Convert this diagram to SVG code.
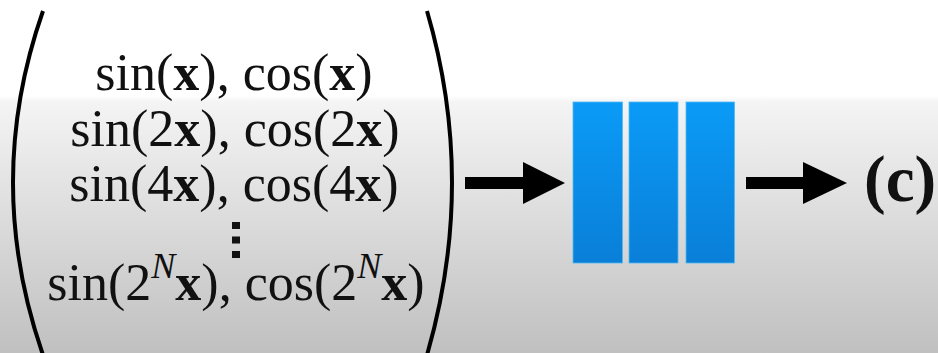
<svg xmlns="http://www.w3.org/2000/svg" width="938" height="353" viewBox="0 0 938 353">
  <defs>
    <linearGradient id="bg" x1="0" y1="0" x2="0" y2="1">
      <stop offset="0" stop-color="#ffffff"/>
      <stop offset="0.27" stop-color="#ffffff"/>
      <stop offset="0.29" stop-color="#f4f4f4"/>
      <stop offset="1" stop-color="#c0c0c0"/>
    </linearGradient>
    <linearGradient id="bar" x1="0" y1="0" x2="0" y2="1">
      <stop offset="0" stop-color="#0a9bf7"/>
      <stop offset="1" stop-color="#0a7fd8"/>
    </linearGradient>
    <style>
      .t { font-family: "Liberation Serif", "Times New Roman", serif; font-size: 52px; fill: #111; text-anchor: middle; }
      .b { font-weight: bold; }
      .sup { font-size: 36px; font-style: italic; }
      .paren { fill: none; stroke: #000; stroke-width: 4; }
      .bar { fill: url(#bar); stroke: #52baf2; stroke-width: 0.8; }
      .arrow { fill: #000; }
    </style>
  </defs>
  <rect x="0" y="0" width="938" height="353" fill="url(#bg)"/>

  <g id="input-vector">
    <path class="paren" d="M 43 11 Q -17 182 43 355"/>
    <path class="paren" d="M 427 11 Q 477 182 427 355"/>
    <text class="t" x="234" y="90">sin(<tspan class="b">x</tspan>), cos(<tspan class="b">x</tspan>)</text>
    <text class="t" x="235" y="146">sin(2<tspan class="b">x</tspan>), cos(2<tspan class="b">x</tspan>)</text>
    <text class="t" x="234" y="201">sin(4<tspan class="b">x</tspan>), cos(4<tspan class="b">x</tspan>)</text>
    <rect x="232" y="222" width="8" height="7" fill="#111"/>
    <rect x="232" y="236.5" width="8" height="7" fill="#111"/>
    <rect x="232" y="251" width="8" height="7" fill="#111"/>
    <text class="t" x="236" y="300">sin(2<tspan class="sup" dy="-22">N</tspan><tspan class="b" dy="22">x</tspan>), cos(2<tspan class="sup" dy="-22">N</tspan><tspan class="b" dy="22">x</tspan>)</text>
  </g>

  <g id="network">
    <rect class="bar" x="573" y="102" width="49.5" height="161"/>
    <rect class="bar" x="629" y="102" width="49" height="161"/>
    <rect class="bar" x="686" y="102" width="48.5" height="161"/>
  </g>

  <g id="output">
    <text class="t b" x="864" y="201" style="font-size:65px; text-anchor:start">(c)</text>
  </g>

  <g id="connectors">
    <rect class="arrow" x="465" y="177" width="60" height="12"/>
    <polygon class="arrow" points="523,162 565,183 523,204"/>
    <rect class="arrow" x="746" y="177" width="59" height="12"/>
    <polygon class="arrow" points="803,162 847,183 803,204"/>
  </g>
</svg>
